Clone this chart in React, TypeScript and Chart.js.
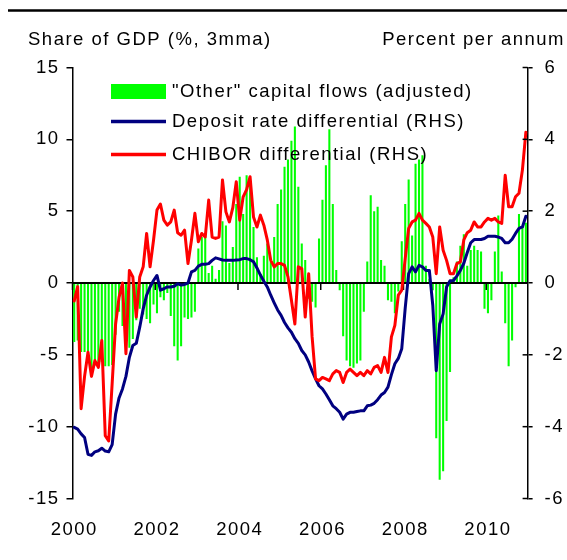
import React, { useEffect, useRef } from 'react';
import { Chart, registerables } from 'chart.js';

Chart.register(...registerables);

// ---------- data ----------
const years = ['2000', '2001', '2002', '2003', '2004', '2005', '2006', '2007', '2008', '2009', '2010'];
const months = ['01', '02', '03', '04', '05', '06', '07', '08', '09', '10', '11', '12'];
const monthLabels = years.flatMap((y) => months.map((m) => `${y}-${m}`));
const xTickYears = ['2000', '2002', '2004', '2006', '2008', '2010'];
const leftTicks = [-15, -10, -5, 0, 5, 10, 15];
const rightTicks = [-6, -4, -2, 0, 2, 4, 6];

// "Other" capital flows (adjusted), share of GDP, % 3mma (LHS)
const otherFlows = [
  -4.1, -4.0, -4.8, -4.8, -5.4, -6.3, -5.5, -5.6, -5.5, -5.8, -5.8, -5.7,
  -3.6, -2.0, -3.0, -3.8, -4.5, -3.9, -2.6, -1.8, -2.2, -2.5, -2.8, -1.5,
  -2.1, -1.0, -1.2, -0.7, -2.3, -4.4, -5.4, -4.4, -2.4, -2.5, -2.4, -2.0,
  2.4, 3.2, 3.4, 0.7, 1.2, 0.3, 0.9, 4.3, 4.0, 1.4, 2.5, 5.5,
  7.4, 4.8, 7.5, 7.2, 3.9, 1.8, 0.65, 1.9, 2.75, 1.5, 3.2, 5.5,
  6.5, 8.1, 8.6, 9.9, 10.9, 6.7, 2.75, 1.6, -1.1, -1.3, -1.7, 3.1,
  5.8, 8.2, 10.7, 5.5, 0.9, -0.5, -3.7, -5.4, -5.8, -5.9, -5.6, -5.4,
  -2.0, 1.5, 6.1, 5.0, 5.3, 1.6, 1.2, -1.2, -1.3, -2.1, -0.6, 2.9,
  5.5, 7.2, 3.3, 8.3, 8.6, 8.9, 1.2, 0.3, -0.5, -10.8, -13.7, -13.1,
  -9.6, -6.2, 0.4, 1.5, 2.6, 3.4, 1.2, 2.3, 2.6, 2.3, 2.2, -1.8,
  -2.1, -1.2, 2.2, 4.7, 0.8, -2.8, -5.8, -4.0, -0.3, 4.8, 3.9, 4.2,
];

// Deposit rate differential (RHS), percent per annum
const depositDiff = [
  -4.02, -4.07, -4.2, -4.3, -4.77, -4.8, -4.7, -4.67, -4.6, -4.68, -4.7, -4.5,
  -3.65, -3.2, -2.95, -2.6, -2.07, -1.74, -1.68, -1.23, -0.72, -0.34, -0.11, 0.07,
  0.21, -0.2, -0.16, -0.11, -0.11, -0.09, -0.02, -0.06, -0.04, 0.0, 0.31, 0.35,
  0.47, 0.52, 0.52, 0.54, 0.63, 0.7, 0.67, 0.64, 0.63, 0.63, 0.63, 0.64,
  0.65, 0.68, 0.68, 0.65, 0.59, 0.42, 0.22, 0.05, -0.11, -0.34, -0.55, -0.75,
  -0.9, -1.1, -1.25, -1.37, -1.55, -1.68, -1.88, -2.0, -2.2, -2.45, -2.67, -2.86,
  -2.95, -3.09, -3.25, -3.42, -3.5, -3.6, -3.79, -3.65, -3.6, -3.6, -3.58, -3.56,
  -3.56, -3.42, -3.4, -3.35, -3.25, -3.12, -3.05, -2.9, -2.55, -2.25, -2.1, -1.83,
  -0.7, 0.26, 0.45, 0.31, 0.49, 0.45, 0.35, 0.35, -0.62, -2.44, -1.14, -0.86,
  -0.11, 0.06, 0.07, 0.2, 0.35, 0.55, 0.85, 1.12, 1.21, 1.21, 1.21, 1.24,
  1.3, 1.3, 1.3, 1.28, 1.24, 1.12, 1.12, 1.22, 1.38, 1.52, 1.56, 1.86,
];

// CHIBOR differential (RHS), percent per annum
const chiborDiff = [
  -0.5, -0.1, -3.5, -2.6, -1.93, -2.6, -2.16, -2.35, -1.6, -4.25, -4.4, -2.8,
  -1.14, -0.4, 0.0, -1.97, 0.35, 0.17, -0.95, 0.17, 0.45, 1.38, 0.45, 1.19,
  2.03, 2.2, 1.75, 1.61, 1.7, 2.03, 1.4, 1.33, 1.47, 0.54, 1.19, 1.94,
  1.15, 1.38, 1.28, 2.31, 1.28, 1.24, 1.28, 2.87, 1.98, 1.7, 2.1, 2.82,
  1.75, 2.4, 2.6, 2.96, 1.84, 1.56, 1.89, 1.61, 1.2, 0.63, 0.45, 0.54,
  0.54, 0.49, 0.17, -0.48, -1.14, 0.45, 0.4, -0.95, 0.26, -1.5, -2.67, -2.72,
  -2.63, -2.67, -2.72, -2.53, -2.44, -2.49, -2.77, -2.49, -2.4, -2.49, -2.58, -2.49,
  -2.58, -2.44, -2.53, -2.35, -2.3, -2.49, -2.07, -2.49, -1.5, -1.18, -0.34, -0.2,
  0.68, 1.52, 1.7, 1.75, 1.94, 1.75, 1.66, 1.56, 1.28, 0.26, 1.56, 0.91,
  0.63, 0.26, 0.26, 0.54, 0.59, 1.2, 1.4, 1.47, 1.7, 1.56, 1.56, 1.7,
  1.8, 1.75, 1.8, 1.7, 1.66, 3.0, 2.12, 2.12, 2.4, 2.5, 3.15, 4.2,
];

const seriesNames = [
  '"Other" capital flows (adjusted)',
  'Deposit rate differential (RHS)',
  'CHIBOR differential (RHS)',
];
const leftTitle = 'Share of GDP (%, 3mma)';
const rightTitle = 'Percent per annum';

// ---------- styles ----------
const FONT = '"Liberation Sans", Arial, sans-serif';
const FONT_SIZE = 18.5;
const LETTER_SPACING = '1.5px';
const GREEN = '#00FF00';
const NAVY = '#000080';
const RED = '#FF0000';

const decorPlugin = {
  id: 'decor',
  beforeDraw(chart: any) {
    try {
      chart.ctx.letterSpacing = LETTER_SPACING;
    } catch (e) {
      /* ignore */
    }
  },
  afterDatasetDraw(chart: any, args: any) {
    if (args.index !== 0) return;
    const { ctx, chartArea, scales } = chart;
    const y0 = scales.y.getPixelForValue(0);
    const x = scales.x;
    const slot = x.getPixelForValue(1) - x.getPixelForValue(0);
    ctx.save();
    ctx.strokeStyle = '#000';
    ctx.lineWidth = 2;
    ctx.beginPath();
    ctx.moveTo(chartArea.left, y0);
    ctx.lineTo(chartArea.right, y0);
    ctx.stroke();
    ctx.lineWidth = 1.5;
    monthLabels.forEach((lbl, i) => {
      if (lbl.endsWith('-01') && xTickYears.includes(lbl.slice(0, 4))) {
        const px = x.getPixelForValue(i) - slot / 2;
        ctx.beginPath();
        ctx.moveTo(px, y0);
        ctx.lineTo(px, y0 + 7);
        ctx.stroke();
      }
    });
    ctx.restore();
  },
  afterDraw(chart: any) {
    const { ctx, chartArea, scales } = chart;
    ctx.save();
    // top rule
    ctx.strokeStyle = '#000';
    ctx.lineWidth = 2.5;
    ctx.beginPath();
    ctx.moveTo(8, 10.5);
    ctx.lineTo(567, 10.5);
    ctx.stroke();

    // right axis inner half of ticks
    ctx.lineWidth = 1.5;
    rightTicks.forEach((v) => {
      const py = scales.y1.getPixelForValue(v);
      ctx.beginPath();
      ctx.moveTo(chartArea.right - 5, py);
      ctx.lineTo(chartArea.right, py);
      ctx.stroke();
    });

    // axis titles
    ctx.font = `${FONT_SIZE}px ${FONT}`;
    ctx.fillStyle = '#000';
    ctx.textBaseline = 'middle';
    ctx.textAlign = 'left';
    ctx.fillText(leftTitle, 28, 39.5);
    ctx.textAlign = 'right';
    ctx.fillText(rightTitle, 565, 39.5);

    // legend
    ctx.textAlign = 'left';
    const sx0 = 111;
    const sx1 = 166;
    const tx = 172;
    const rows = [91.5, 121.5, 154.5];
    ctx.fillStyle = GREEN;
    ctx.fillRect(sx0, rows[0] - 7.5, sx1 - sx0, 15);
    ctx.lineWidth = 3.5;
    ctx.lineCap = 'butt';
    ctx.strokeStyle = NAVY;
    ctx.beginPath();
    ctx.moveTo(sx0, rows[1]);
    ctx.lineTo(sx1, rows[1]);
    ctx.stroke();
    ctx.strokeStyle = RED;
    ctx.beginPath();
    ctx.moveTo(sx0, rows[2]);
    ctx.lineTo(sx1, rows[2]);
    ctx.stroke();
    ctx.fillStyle = '#000';
    seriesNames.forEach((name, i) => ctx.fillText(name, tx, rows[i]));
    ctx.restore();
  },
};

export default function App() {
  const canvasRef = useRef<HTMLCanvasElement | null>(null);

  useEffect(() => {
    document.body.style.margin = '0';
    const canvas = canvasRef.current;
    if (!canvas) return;
    const chart = new Chart(canvas, {
      type: 'bar',
      data: {
        labels: monthLabels,
        datasets: [
          {
            type: 'bar',
            label: seriesNames[0],
            data: otherFlows,
            backgroundColor: GREEN,
            borderWidth: 0,
            barPercentage: 0.6,
            categoryPercentage: 1.0,
            yAxisID: 'y',
            order: 3,
          },
          {
            type: 'line',
            label: seriesNames[1],
            data: depositDiff,
            borderColor: NAVY,
            backgroundColor: NAVY,
            borderWidth: 3,
            pointRadius: 0,
            tension: 0,
            borderJoinStyle: 'round',
            borderCapStyle: 'round',
            yAxisID: 'y1',
            order: 2,
          },
          {
            type: 'line',
            label: seriesNames[2],
            data: chiborDiff,
            borderColor: RED,
            backgroundColor: RED,
            borderWidth: 3,
            pointRadius: 0,
            tension: 0,
            borderJoinStyle: 'round',
            borderCapStyle: 'round',
            yAxisID: 'y1',
            order: 1,
          },
        ] as any,
      },
      options: {
        responsive: false,
        animation: false,
        layout: { padding: { top: 67.5, left: 0, right: 0, bottom: 0 } },
        plugins: {
          legend: { display: false },
          tooltip: { enabled: false },
          title: { display: false },
        },
        scales: {
          x: {
            type: 'category',
            offset: true,
            border: { display: false },
            grid: { display: false, drawTicks: false, offset: true },
            ticks: {
              autoSkip: false,
              maxRotation: 0,
              minRotation: 0,
              padding: 20,
              color: '#000',
              font: { family: FONT, size: FONT_SIZE },
              callback: (v: any) => {
                const lbl = monthLabels[Number(v)];
                const yr = lbl.slice(0, 4);
                return lbl.endsWith('-01') && xTickYears.includes(yr) ? yr : '';
              },
            },
            afterFit: (s: any) => {
              s.height = 61.5;
            },
          },
          y: {
            position: 'left',
            min: -15,
            max: 15,
            afterBuildTicks: (s: any) => {
              s.ticks = leftTicks.map((v) => ({ value: v }));
            },
            border: { display: true, color: '#000', width: 1.5 },
            grid: { drawOnChartArea: false, drawTicks: true, tickLength: 6, color: '#000', lineWidth: 1.5 },
            ticks: { color: '#000', font: { family: FONT, size: FONT_SIZE }, padding: 7 },
            afterFit: (s: any) => {
              s.width = 72.5;
            },
          },
          y1: {
            position: 'right',
            min: -6,
            max: 6,
            afterBuildTicks: (s: any) => {
              s.ticks = rightTicks.map((v) => ({ value: v }));
            },
            border: { display: true, color: '#000', width: 1.5 },
            grid: { drawOnChartArea: false, drawTicks: true, tickLength: 5, color: '#000', lineWidth: 1.5 },
            ticks: { color: '#000', font: { family: FONT, size: FONT_SIZE }, padding: 12 },
            afterFit: (s: any) => {
              s.width = 39.4;
            },
          },
        },
      } as any,
      plugins: [decorPlugin],
    });
    return () => chart.destroy();
  }, []);

  return (
    <div style={{ width: 567, height: 560, background: '#fff' }}>
      <canvas ref={canvasRef} width={567} height={560} />
    </div>
  );
}
